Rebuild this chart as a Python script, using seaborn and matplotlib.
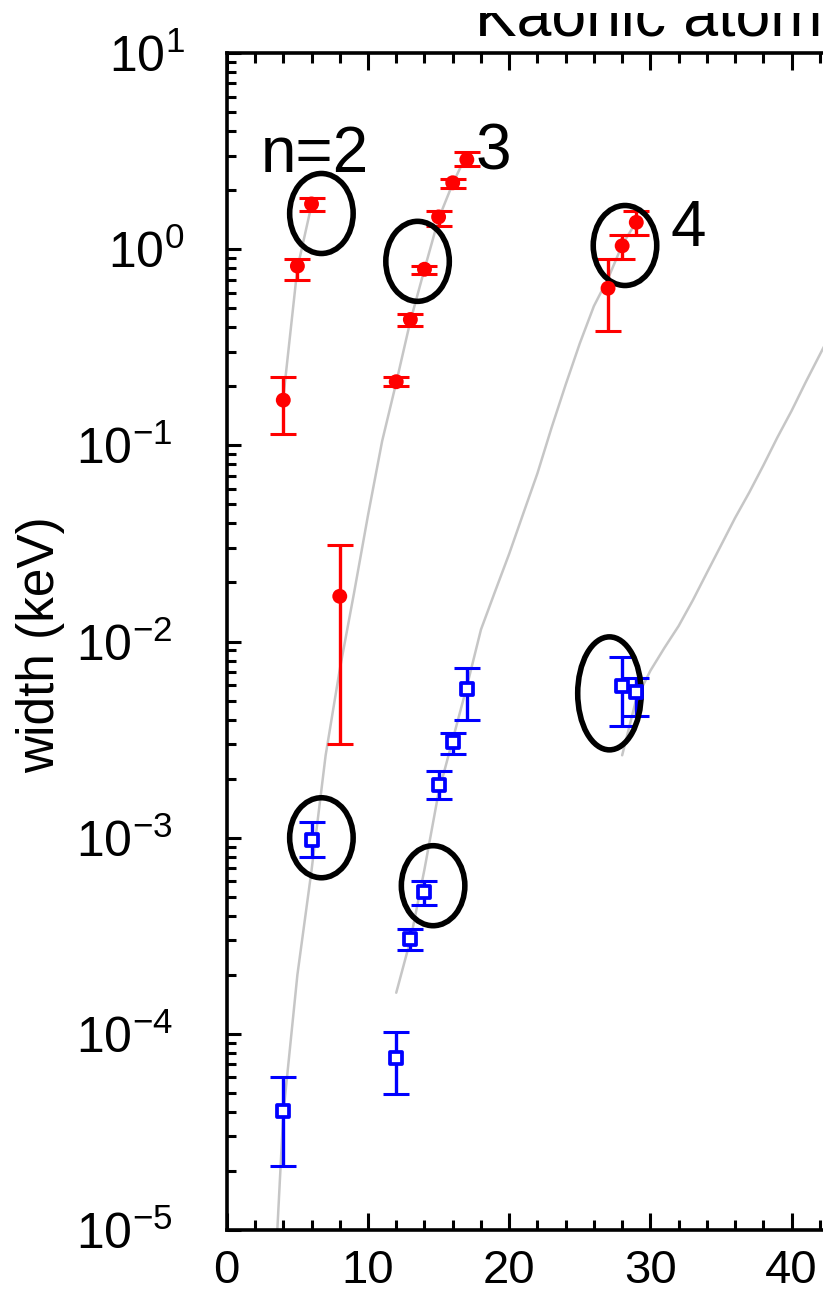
import numpy as np
import pandas as pd
import matplotlib
matplotlib.use("Agg")
import matplotlib.pyplot as plt
import seaborn as sns
from matplotlib.patches import Ellipse
from matplotlib.transforms import ScaledTranslation, Bbox
from matplotlib.ticker import MultipleLocator, FixedLocator, LogLocator, NullFormatter, FuncFormatter

# Calculated level widths (keV) versus atomic number Z, one curve per level n
calc_z_n2 = [4, 5, 6]
calc_w_n2 = [0.175, 0.80, 1.68]
calc_z_n3 = list(range(3, 18))
calc_w_n3 = [1.55e-6, 3.9e-5, 2.0e-4, 6.8e-4, 2.63e-3, 7.2e-3, 1.75e-2, 4.4e-2,
             0.105, 0.209, 0.43, 0.79, 1.43, 2.16, 3.05]
calc_z_n4 = list(range(12, 30))
calc_w_n4 = [1.62e-4, 3.0e-4, 6.9e-4, 1.7e-3, 3.16e-3, 5.9e-3, 1.15e-2, 1.8e-2,
             2.8e-2, 4.5e-2, 7.2e-2, 0.123, 0.204, 0.331, 0.513, 0.708, 1.05, 1.38]
calc_z_n5 = list(range(28, 44))
calc_w_n5 = [2.63e-3, 5.1e-3, 7.1e-3, 9.3e-3, 1.2e-2, 1.62e-2, 2.24e-2, 3.09e-2,
             4.27e-2, 5.75e-2, 7.9e-2, 0.11, 0.15, 0.21, 0.29, 0.40]

# Measured lower-level widths (keV) with lower / upper error limits
lower_z = [4, 5, 6, 8, 12, 13, 14, 15, 16, 17, 27, 28, 29]
lower_w = [0.170, 0.82, 1.70, 0.0170, 0.211, 0.438, 0.79, 1.46, 2.18, 2.86, 0.632, 1.04, 1.37]
lower_lo = [0.114, 0.697, 1.56, 0.0030, 0.200, 0.408, 0.75, 1.32, 2.06, 2.64, 0.382, 0.889, 1.18]
lower_hi = [0.224, 0.889, 1.83, 0.031, 0.224, 0.466, 0.822, 1.56, 2.27, 3.13, 0.889, 1.18, 1.56]

# Measured upper-level widths (keV) with lower / upper error limits
upper_z = [4, 6, 12, 13, 14, 15, 16, 17, 28, 29]
upper_w = [4.05e-5, 9.7e-4, 7.5e-5, 3.04e-4, 5.26e-4, 1.86e-3, 3.08e-3, 5.72e-3, 5.93e-3, 5.54e-3]
upper_lo = [2.11e-5, 7.96e-4, 4.92e-5, 2.68e-4, 4.53e-4, 1.58e-3, 2.66e-3, 3.99e-3, 3.69e-3, 4.15e-3]
upper_hi = [6.0e-5, 1.2e-3, 1.02e-4, 3.42e-4, 5.98e-4, 2.18e-3, 3.41e-3, 7.29e-3, 8.3e-3, 6.48e-3]

# Highlight rings (centre Z, centre width)
ring_z = [6.70, 13.51, 28.20, 6.70, 14.61, 27.10]
ring_w = [1.52, 0.867, 1.044, 9.99e-4, 5.69e-4, 5.44e-3]
ring_tall = [False, False, False, False, False, True]

x_ticks = [0, 10, 20, 30, 40]
y_decades = [-5, -4, -3, -2, -1, 0, 1]

sns.set_theme(style="white")
plt.rcParams["font.family"] = ["Liberation Sans", "DejaVu Sans"]
plt.rcParams["mathtext.fontset"] = "custom"
plt.rcParams["mathtext.rm"] = "Liberation Sans"
plt.rcParams["mathtext.default"] = "regular"
for key in ["text.color", "axes.labelcolor", "xtick.color", "ytick.color",
            "xtick.labelcolor", "ytick.labelcolor", "axes.edgecolor"]:
    plt.rcParams[key] = "black"

W, H, DPI = 823, 1293, 100
fig = plt.figure(figsize=(W / DPI, H / DPI), dpi=DPI)
fig.patch.set_facecolor("white")

x0_px, px_per_unit = 226.8, 14.12
ax = fig.add_axes([x0_px / W, 63 / H, 50 * px_per_unit / W, 1177 / H])
ax.set_facecolor("white")
ax.set_yscale("log")

# calculated curves
calc = pd.concat([
    pd.DataFrame({"Z": calc_z_n2, "width": calc_w_n2, "level": 2}),
    pd.DataFrame({"Z": calc_z_n3, "width": calc_w_n3, "level": 3}),
    pd.DataFrame({"Z": calc_z_n4, "width": calc_w_n4, "level": 4}),
    pd.DataFrame({"Z": calc_z_n5, "width": calc_w_n5, "level": 5}),
])
sns.lineplot(data=calc, x="Z", y="width", units="level", estimator=None, sort=False,
             color="#c6c6c6", linewidth=1.8, ax=ax, zorder=1)

# error bars
lw_ = np.array(lower_w)
ax.errorbar(lower_z, lower_w, yerr=[lw_ - np.array(lower_lo), np.array(lower_hi) - lw_],
            fmt="none", ecolor="#ff0000", elinewidth=2.4, capsize=9.7, capthick=2.2, zorder=3)
uw_ = np.array(upper_w)
ax.errorbar(upper_z, upper_w, yerr=[uw_ - np.array(upper_lo), np.array(upper_hi) - uw_],
            fmt="none", ecolor="#0000ff", elinewidth=2.4, capsize=9.7, capthick=2.2, zorder=3)

# markers
sns.scatterplot(x=lower_z, y=lower_w, marker="o", s=115, color="#ff0000",
                edgecolor="none", linewidth=0, ax=ax, zorder=4)
sns.scatterplot(x=upper_z, y=upper_w, marker="s", s=80, color="white",
                edgecolor="#0000ff", linewidth=2.7, ax=ax, zorder=4)

# rings drawn in screen units around selected points
for rz, rw, tall in zip(ring_z, ring_w, ring_tall):
    tr = fig.dpi_scale_trans + ScaledTranslation(rz, rw, ax.transData)
    e = Ellipse((0, 0), 0.635, 1.13 if tall else 0.80, transform=tr,
                fill=False, edgecolor="black", linewidth=4.0, zorder=3.5)
    ax.add_artist(e)

# level labels
ax.text(2.42, 2.47, "n=2", fontsize=46, color="black", ha="left", va="baseline", zorder=5)
ax.text(17.61, 2.56, "3", fontsize=46, color="black", ha="left", va="baseline", zorder=5)
ax.text(31.39, 1.036, "4", fontsize=46, color="black", ha="left", va="baseline", zorder=5)

ax.set_xlim(0, 50)
ax.set_ylim(1e-5, 10)
ax.set_xlabel("")
ax.set_ylabel("")

ax.xaxis.set_major_locator(FixedLocator(x_ticks))
ax.xaxis.set_minor_locator(MultipleLocator(2))
ax.yaxis.set_major_locator(FixedLocator([10.0 ** d for d in y_decades]))
ax.yaxis.set_minor_locator(LogLocator(base=10, subs=np.arange(2, 10), numticks=100))
ax.yaxis.set_minor_formatter(NullFormatter())
ax.yaxis.set_major_formatter(FuncFormatter(
    lambda v, pos: r"$\mathdefault{10^{%d}}$" % int(round(np.log10(v)))))
ax.xaxis.set_major_formatter(FuncFormatter(lambda v, pos: "%d" % v))

ax.tick_params(which="both", direction="in", top=True, bottom=True, left=True, right=False,
               color="black", labelcolor="black")
ax.tick_params(axis="x", which="major", length=12.5, width=2.2, pad=13.5, labelsize=34)
ax.tick_params(axis="x", which="minor", length=7.5, width=2.2)
ax.tick_params(axis="y", which="major", length=10, width=2.2, pad=39, labelsize=36)
ax.tick_params(axis="y", which="minor", length=6.5, width=2.2)

for side in ["left", "bottom", "top"]:
    ax.spines[side].set_visible(True)
    ax.spines[side].set_linewidth(2.6)
    ax.spines[side].set_color("black")
ax.spines["right"].set_visible(False)
ax.grid(False)

# positive exponents sit a little further right
for tick, d in zip(ax.yaxis.get_major_ticks(), y_decades):
    if d >= 0:
        tick.label1.set_transform(tick.label1.get_transform()
                                  + ScaledTranslation(12 / DPI, 0, fig.dpi_scale_trans))

fig.text(40.5 / W, 1 - 645 / H, "width (keV)", rotation=90, fontsize=37, color="black",
         ha="center", va="center")

title = fig.text(475 / W, 1 - 35 / H, "Kaonic atom", fontsize=45, color="black",
                 ha="left", va="baseline")
title.set_clip_box(Bbox.from_extents(0, 0, W, H - 13))
title.set_clip_on(True)

fig.savefig("out.png", dpi=DPI)
